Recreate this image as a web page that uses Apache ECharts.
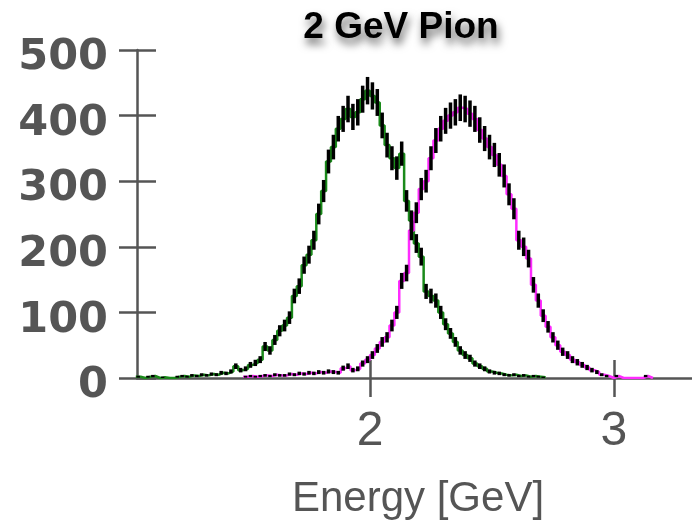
<!DOCTYPE html>
<html>
<head>
<meta charset="utf-8">
<script src="https://cdn.jsdelivr.net/npm/echarts@6/dist/echarts.min.js"></script>
<style>
  html, body { margin: 0; padding: 0; background: #fff; }
  #chart { width: 692px; height: 526px; }
</style>
</head>
<body>
<div id="chart"></div>
<script>
// Histogram binning (GeV)
const BIN_WIDTH = 0.02;
const GREEN_FIRST_EDGE = 1.04;
const MAGENTA_FIRST_EDGE = 1.48;

// Counts per bin, green histogram
const greenCounts = [
  2, 0, 2, 3, 0, 1, 0, 0, 2, 3,
  2, 4, 3, 5, 4, 6, 5, 8, 7, 10,
  18, 12, 14, 20, 23, 28, 48, 42, 58, 72,
  80, 92, 125, 140, 172, 188, 210, 250, 285, 330,
  352, 380, 395, 410, 398, 405, 425, 438, 430, 420,
  385, 355, 335, 320, 342, 270, 240, 205, 185, 132,
  125, 118, 100, 82, 68, 55, 42, 35, 30, 22,
  18, 14, 10, 8, 7, 5, 4, 5, 3, 4,
  2, 3, 2, 1
];

// Counts per bin, magenta histogram
const magentaCounts = [
  2, 3, 2, 3, 4, 3, 5, 4, 4, 6,
  5, 7, 6, 8, 7, 9, 8, 10, 9, 8,
  15, 18, 12, 14, 22, 28, 35, 45, 55, 62,
  80, 100, 148, 160, 225, 252, 288, 300, 335, 362,
  380, 392, 400, 405, 412, 410, 403, 395, 378, 365,
  352, 340, 325, 308, 280, 258, 210, 200, 182, 142,
  118, 95, 78, 62, 50, 40, 35, 28, 24, 20,
  16, 12, 9, 5, 3, 0, 3, 0, 0, 0,
  0, 0, 3, 0
];

const X_MIN = 1.045;
const X_MAX = 3.32;
const xTickValues = [2, 3];

const TITLE = '2 GeV Pion';
const X_TITLE = 'Energy [GeV]';

const GREEN = '#1a8a1a';
const MAGENTA = '#ff2cff';
const AXIS_GREY = '#555555';

// Step outline: each bin drawn flat from its lower to upper edge
function stepPoints(firstEdge, counts) {
  const pts = counts.map((c, i) => [firstEdge + i * BIN_WIDTH, c]);
  pts.push([firstEdge + counts.length * BIN_WIDTH, counts[counts.length - 1]]);
  return pts;
}

// Error bar points at bin centres (statistical error sqrt(N))
function barPoints(firstEdge, counts) {
  return counts
    .map((c, i) => [firstEdge + (i + 0.5) * BIN_WIDTH, c])
    .filter(p => p[1] > 0);
}

function renderErrorBar(params, api) {
  const x = api.value(0);
  const n = api.value(1);
  const err = Math.sqrt(n);
  const p1 = api.coord([x, n - err]);
  const p2 = api.coord([x, n + err]);
  return {
    type: 'line',
    shape: { x1: p1[0], y1: p1[1], x2: p2[0], y2: p2[1] },
    style: { stroke: '#000', lineWidth: 3.5 }
  };
}

const chart = echarts.init(document.getElementById('chart'), null, { renderer: 'canvas' });

const baseX = {
  type: 'value', min: X_MIN, max: X_MAX, position: 'bottom',
  splitLine: { show: false }
};
const baseY = {
  type: 'value', min: 0, max: 500, interval: 100, position: 'left',
  splitLine: { show: false }
};

chart.setOption({
  animation: false,
  backgroundColor: '#fff',
  grid: { left: 137, right: 0, top: 50, bottom: 148, containLabel: false },
  xAxis: [
    Object.assign({}, baseX, {
      axisLine: { show: true, lineStyle: { color: AXIS_GREY, width: 2.5 } },
      axisTick: { show: true, inside: false, length: 19, customValues: xTickValues,
        lineStyle: { color: AXIS_GREY, width: 2.5 } },
      axisLabel: { show: true, customValues: xTickValues, margin: 54,
        verticalAlign: 'middle',
        fontFamily: '"Liberation Sans Narrow", "Liberation Sans", sans-serif',
        fontSize: 48, color: AXIS_GREY }
    }),
    Object.assign({}, baseX, {
      axisLine: { show: false },
      axisTick: { show: true, inside: true, length: 18, customValues: xTickValues,
        lineStyle: { color: AXIS_GREY, width: 2.5 } },
      axisLabel: { show: false }
    })
  ],
  yAxis: [
    Object.assign({}, baseY, {
      axisLine: { show: true, lineStyle: { color: AXIS_GREY, width: 2.5 } },
      axisTick: { show: true, inside: false, length: 18,
        lineStyle: { color: AXIS_GREY, width: 2.5 } },
      axisLabel: {
        show: true, margin: 29,
        formatter: '{v|{value}}',
        rich: {
          v: {
            padding: [16, 0, 0, 0],
            fontFamily: '"DejaVu Sans", sans-serif', fontWeight: 'bold',
            fontSize: 43, color: AXIS_GREY
          }
        }
      }
    }),
    Object.assign({}, baseY, {
      axisLine: { show: false },
      axisTick: { show: true, inside: true, length: 19,
        lineStyle: { color: AXIS_GREY, width: 2.5 } },
      axisLabel: { show: false }
    })
  ],
  graphic: [
    {
      type: 'text', x: 401, y: 28, z: 10,
      style: {
        text: TITLE, fill: '#000',
        font: 'bold 37px "Liberation Sans", Arial, sans-serif',
        textAlign: 'center', textVerticalAlign: 'middle',
        textShadowColor: 'rgba(0,0,0,0.6)', textShadowBlur: 8,
        textShadowOffsetX: 2, textShadowOffsetY: 6
      }
    },
    {
      type: 'text', x: 418, y: 499, z: 10,
      style: {
        text: X_TITLE, fill: AXIS_GREY,
        font: '42px "Liberation Sans", sans-serif',
        textAlign: 'center', textVerticalAlign: 'middle'
      }
    }
  ],
  series: [
    {
      name: 'green', type: 'line', step: 'end', symbol: 'none',
      data: stepPoints(GREEN_FIRST_EDGE, greenCounts),
      lineStyle: { color: GREEN, width: 2.5 }, z: 2
    },
    {
      name: 'magenta', type: 'line', step: 'end', symbol: 'none',
      data: stepPoints(MAGENTA_FIRST_EDGE, magentaCounts),
      lineStyle: { color: MAGENTA, width: 2.5 }, z: 2
    },
    {
      name: 'green errors', type: 'custom', renderItem: renderErrorBar,
      data: barPoints(GREEN_FIRST_EDGE, greenCounts), z: 3
    },
    {
      name: 'magenta errors', type: 'custom', renderItem: renderErrorBar,
      data: barPoints(MAGENTA_FIRST_EDGE, magentaCounts), z: 3
    }
  ]
});
</script>
</body>
</html>
